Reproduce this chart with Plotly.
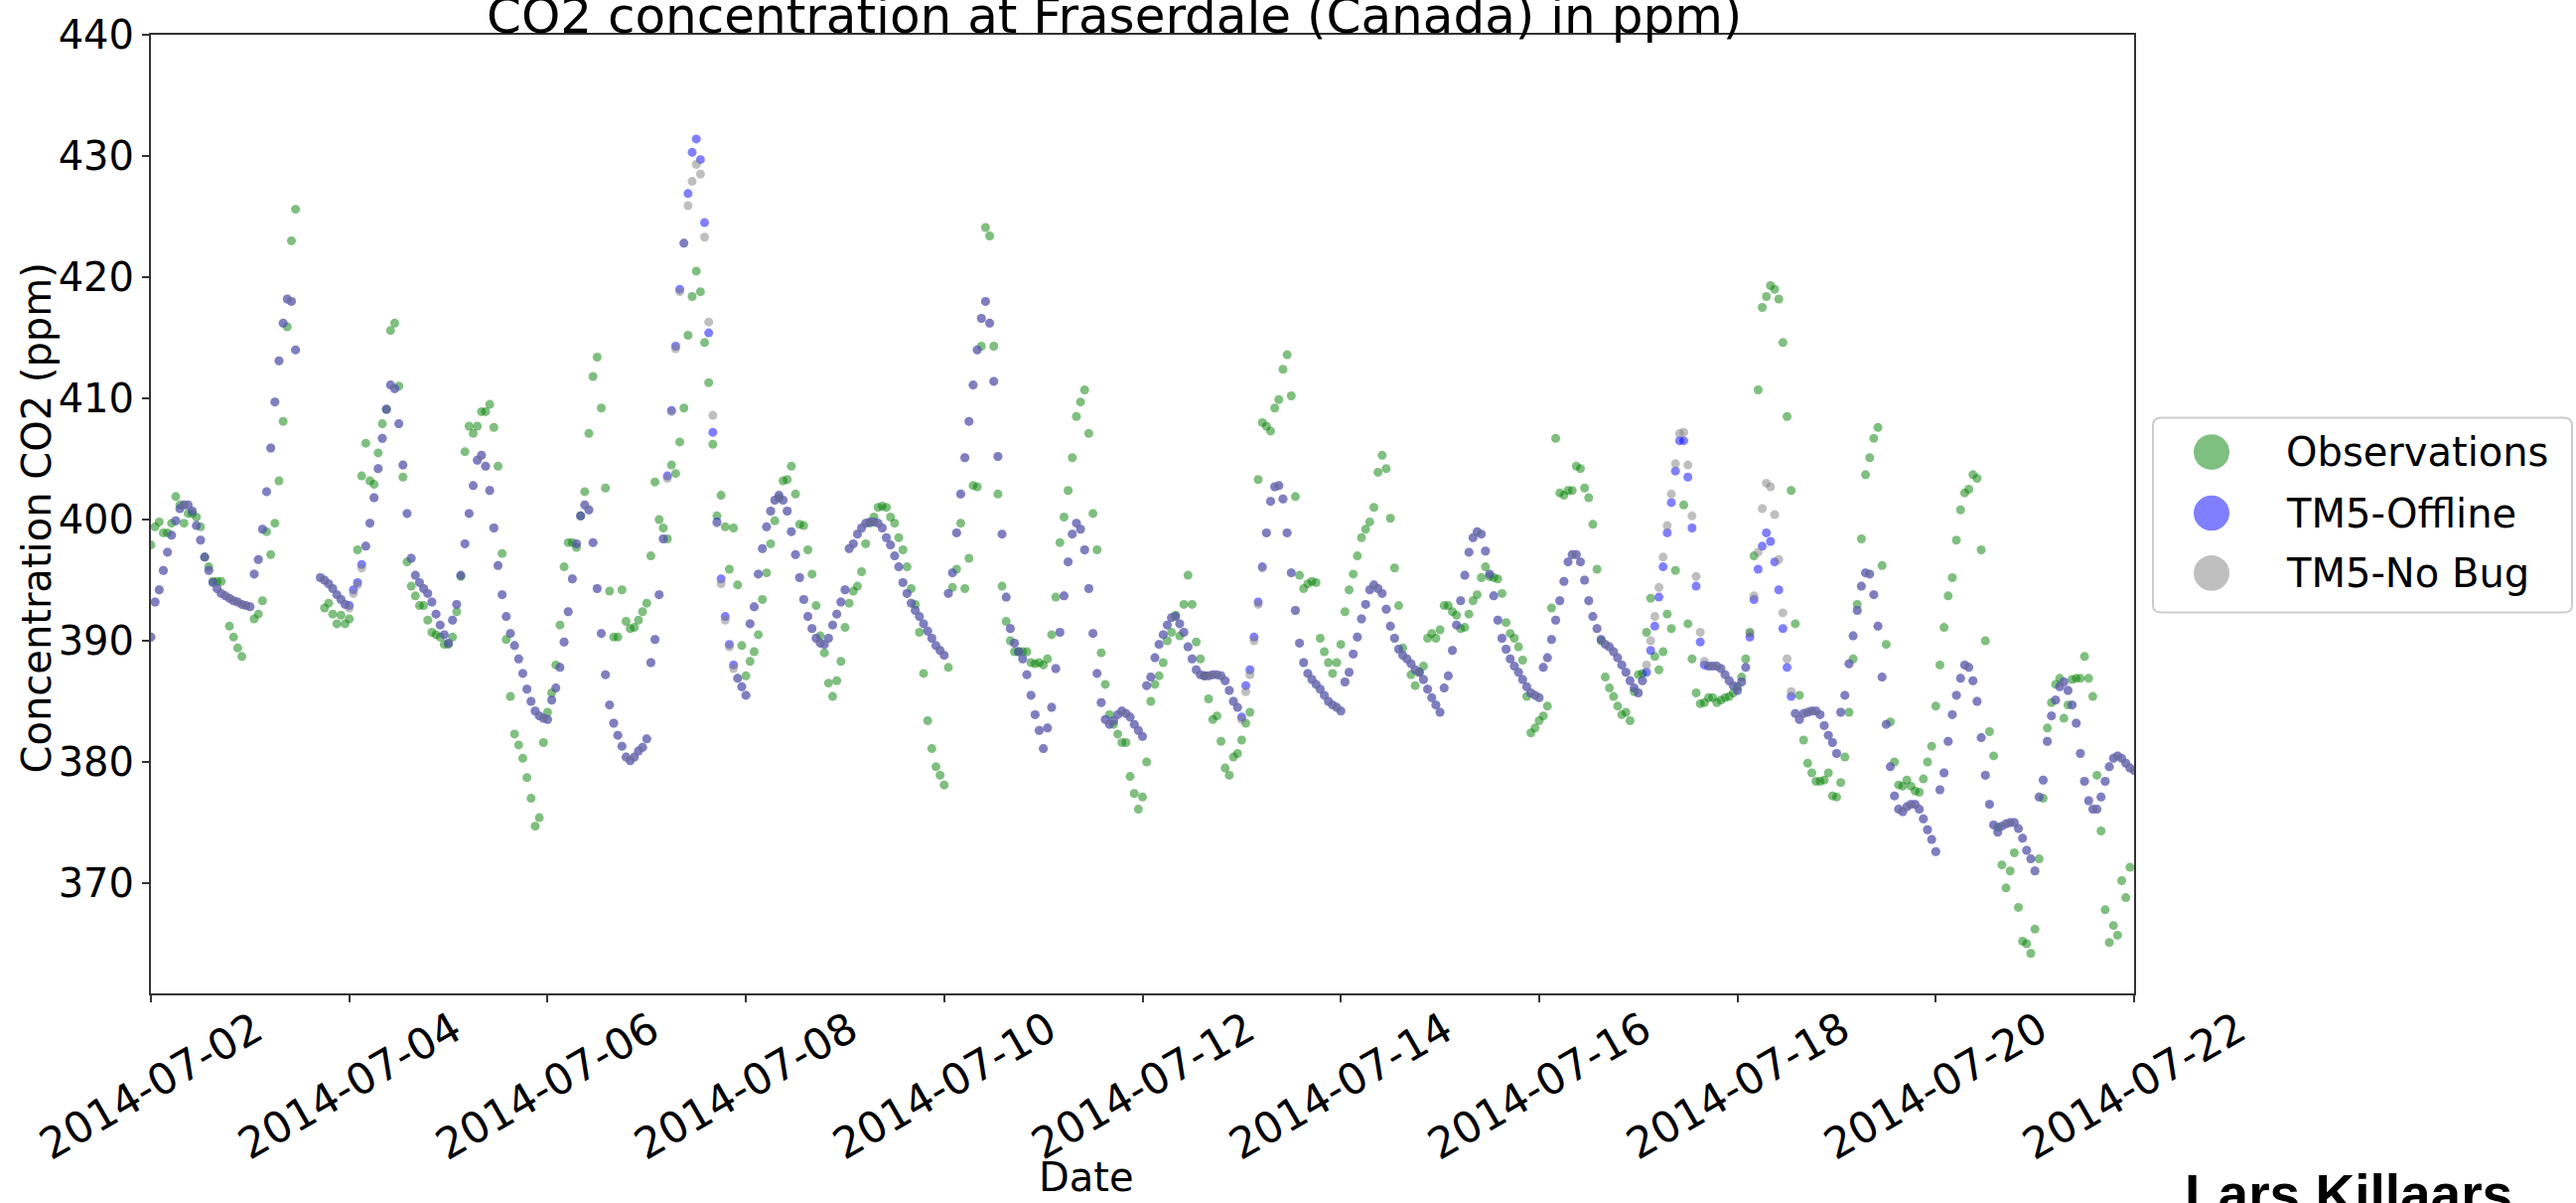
import plotly.graph_objects as go
import pandas as pd

# ---------------- data (hourly, starting 2014-07-02 00:00) ----------------
START = "2014-07-02 00:00"
N_HOURS = 481

# Observations (ppm)
OBS_A = [
    397.9, 399.4, 399.8, 398.9, 398.9, 399.7, 401.9, 401.2, 399.7, 400.5, 400.5, 400.2,
    399.4, 396.9, 396.1, 394.9, 394.9, 394.9, None, 391.2, 390.3, 389.4, 388.7, None,
    None, 391.8, 392.2, 393.3, 399.0, 397.1, 399.7, 403.2, 408.1, 415.9, 423.0, 425.6,
    None, None, None, None, None, None, 392.7, 393.1, 392.2, 391.4, 392.1, 391.4,
    391.8, None, 397.5, 403.6, 406.3, 403.2, 402.9, 405.5, 407.9, 409.1, 415.6, 416.2,
    411.0, 403.5, 396.5, 394.5, 393.7, 392.9, 392.9, 391.7, 390.7, 390.5, 390.3, 389.7,
    389.7, 390.3, 392.4, 395.3, 405.6, 407.7, 407.1, 407.7, 408.9, 408.9, 409.5, 407.6,
    404.4, 397.2, 390.1, 385.4, 382.3, 381.4, 380.3, 378.7, 377.0, 374.7, 375.4, 381.6,
    384.1, 385.7, 388.0, 391.3, 396.1, 398.1, 398.1, 397.7, 400.3, 402.3, 407.1, 411.8,
    413.4, 409.2, 402.6, 394.1, 390.3, 390.3, 394.2, 391.6, 391.0, 391.1, 391.7, 392.4,
]
OBS_B = [
    393.1, 397.0, 403.1, 400.0, 399.3, 398.4, 404.5, 403.8, 406.4, 409.2, 415.2, 418.4,
    420.5, 418.8, 414.6, 411.3, 406.2, 400.3, 402.0, 399.4, 395.9, 399.3, 394.6, 389.6,
    387.1, 388.3, 389.1, 390.5, 393.4, 395.6, 398.0, 399.9, 401.8, 403.2, 403.3, 404.4,
    402.1, 399.6, 399.5, 397.5, 395.5, 392.9, 390.4, 389.0, 386.5, 385.4, 386.7, 388.3,
    391.1, 393.1, 394.1, 394.5, 395.7, 398.0, 399.7, 400.2, 401.0, 401.1, 401.0, 400.2,
    399.7, 398.5, 397.5, 396.1, 394.3, 393.0, 390.7, 387.3, 383.4, 381.1, 379.6, 378.9,
    378.1, 387.8, 394.4, 395.9, 399.7, 394.3, 396.8, 402.8, 402.7, 414.3, 424.1, 423.4,
    414.3, 402.1, 394.5, 391.6, 390.0, 389.1, 389.1, 389.1, 389.1, 388.2, 388.1, 388.2,
    388.0, 388.5, 390.5, 393.6, 398.1, 400.2, 402.4, 405.1, 408.5, 409.7, 410.7, 407.1,
    400.5, 397.5, 389.0, 386.4, 383.9, 383.1, 382.3, 381.6, 381.6, 378.8, 377.4, 376.1,
]
OBS_C = [
    377.1, 380.0, 385.0, 386.4, 387.1, 388.2, 390.0, 390.7, 392.1, 390.4, 393.0, 395.4,
    393.0, 389.9, 388.5, 387.1, 385.2, 383.5, 383.8, 381.7, 379.5, 378.9, 380.4, 380.7,
    381.8, 383.2, 384.1, None, 403.3, 408.0, 407.7, 407.3, 409.2, 409.9, 412.4, 413.6,
    410.2, 401.9, 395.4, 394.3, 394.7, 394.9, 394.8, 390.2, 389.1, 388.2, 387.3, 388.2,
    389.7, 392.4, 394.2, 395.5, 397.0, 398.5, 399.2, 399.8, 401.0, 403.9, 405.3, 404.2,
    400.1, 396.0, 392.9, 389.4, None, 387.2, 386.3, 387.4, 387.9, 390.2, 390.6, 390.2,
    390.9, 392.9, 392.9, 392.4, 392.1, 391.0, 391.1, 392.2, 393.3, 393.8, 395.2, 396.1,
    395.3, 395.2, 395.1, 393.9, 391.5, 390.6, 390.2, 389.5, 388.4, 385.4, 382.4, 382.8,
    383.4, 383.8, 384.6, 392.7, 406.7, 402.2, 402.0, 402.4, 402.4, 404.4, 404.2, 402.6,
    401.8, 399.6, 395.9, 390.0, 387.0, 386.1, 385.4, 384.6, 383.9, 384.1, 383.4, 385.8,
]
OBS_D = [
    387.2, 387.3, 390.7, 393.5, 388.7, 387.6, 389.1, 392.2, 391.0, 395.8, None, 401.2,
    391.4, 388.5, 385.7, 384.8, 384.9, 385.3, 385.3, 384.9, 385.1, 385.3, 385.4, 385.7,
    386.2, 387.0, 388.5, 390.7, 397.0, 410.7, 417.5, 418.4, 419.3, 419.0, 418.2, 414.6,
    408.5, 402.4, 391.4, 385.5, 381.8, 379.9, 379.1, 378.4, 378.4, 378.5, 379.1, 377.2,
    377.1, 378.3, 380.4, 384.1, 388.5, 393.0, 398.4, 403.7, 405.1, 406.7, 407.6, 396.2,
    389.7, 383.3, 380.0, 378.1, 378.0, 378.5, 378.0, 377.6, 377.5, 378.6, 380.0, 381.3,
    384.6, 388.0, 391.1, 393.7, 395.2, 398.3, 400.8, 402.2, 402.5, 403.7, 403.4, 397.5,
    390.0, 382.5, 380.5, 374.6, 371.5, 369.6, 371.0, 372.5, 368.0, 365.2, 365.0, 364.2,
    366.2, 372.0, 377.0, 382.8, 384.9, 386.4, 386.9, 383.6, 384.7, 386.8, 386.9, 386.9,
    388.7, 386.9, 385.4, 378.9, 374.3, 367.8, 365.1, 366.5, 365.7, 370.2, 368.8, 371.3,
    None,
]

# TM5-Offline (ppm)
OFF_A = [
    390.3, 393.2, 394.2, 395.8, 397.3, 398.7, 399.9, 400.9, 401.2, 401.2, 400.7, 399.5,
    398.3, 396.9, 395.8, 394.8, 394.3, 393.9, 393.7, 393.5, 393.3, 393.2, 393.0, 392.9,
    392.8, 395.5, 396.7, 399.2, 402.3, 405.9, 409.7, 413.1, 416.2, 418.2, 418.0, 414.0,
    None, None, None, None, None, 395.2, 395.0, 394.7, 394.3, 393.8, 393.4, 393.0,
    392.9, 394.2, 394.8, 396.3, 397.8, 399.7, 401.8, 404.2, 406.7, 409.1, 411.1, 410.8,
    407.9, 404.5, 400.5, 396.8, 395.4, 394.8, 394.3, 393.9, 393.2, 392.2, 391.3, 390.5,
    389.8, 391.7, 393.0, 395.4, 398.0, 400.5, 402.8, 404.9, 405.3, 404.4, 402.4, 399.3,
    396.2, 393.8, 392.0, 390.6, 389.6, 388.5, 387.3, 386.0, 385.0, 384.2, 383.8, 383.6,
    383.5, 385.1, 386.1, 387.8, 389.9, 392.4, 395.1, 398.0, 400.3, 401.2, 400.8, 398.1,
    394.3, 390.6, 387.2, 384.7, 383.2, 382.2, 381.3, 380.4, 380.1, 380.4, 380.9, 381.2,
]
OFF_B = [
    381.9, 388.2, 390.1, 393.8, 398.4, 403.6, 409.0, 414.3, 419.0, 422.8, 426.9, 430.3,
    431.4, 429.7, 424.5, 415.4, 407.2, 399.8, 395.1, 392.0, 389.7, 388.0, 386.9, 386.2,
    385.5, 391.4, 392.8, 395.5, 397.6, 399.4, 400.7, 401.6, 402.0, 401.6, 400.7, 399.0,
    397.1, 395.2, 393.4, 392.0, 391.0, 390.2, 389.8, 389.7, 390.2, 391.3, 392.2, 393.2,
    394.2, 397.6, 398.0, 398.8, 399.3, 399.7, 399.8, 399.8, 399.7, 399.3, 398.5, 397.9,
    397.0, 396.1, 394.8, 393.9, 393.1, 392.5, 392.0, 391.4, 390.8, 390.2, 389.6, 389.2,
    388.8, 393.9, 395.6, 398.9, 402.1, 405.1, 408.1, 411.1, 414.0, 416.6, 418.0, 416.2,
    411.4, 405.2, 398.8, 393.6, 391.0, 389.8, 389.1, 388.5, 387.2, 385.5, 383.9, 382.6,
    381.1, 382.8, 384.5, 387.7, 390.7, 393.7, 396.5, 398.8, 399.7, 399.2, 397.5, 394.3,
    390.6, 387.3, 384.9, 383.5, 383.1, 383.4, 383.9, 384.2, 384.0, 383.7, 383.1, 382.6,
]
OFF_C = [
    382.1, 386.3, 387.0, 388.6, 389.7, 390.5, 391.3, 391.9, 392.0, 391.4, 390.7, 389.5,
    388.5, 387.6, 387.2, 387.1, 387.1, 387.2, 387.2, 387.1, 386.7, 385.9, 385.0, 384.5,
    383.7, 386.3, 387.6, 390.3, 393.2, 396.1, 398.9, 401.5, 402.7, 402.8, 401.7, 398.9,
    395.6, 392.5, 389.8, 388.2, 387.3, 386.8, 386.4, 386.0, 385.5, 385.0, 384.7, 384.5,
    384.2, 386.6, 387.4, 388.9, 390.3, 391.8, 393.0, 394.2, 394.6, 394.3, 393.9, 392.6,
    391.2, 390.2, 389.3, 388.8, 388.5, 388.1, 387.6, 387.4, 386.8, 386.0, 385.3, 384.7,
    384.1, 386.1, 387.1, 389.2, 391.3, 393.3, 395.4, 397.3, 398.5, 399.0, 398.8, 397.4,
    395.5, 393.7, 391.7, 390.2, 389.3, 388.5, 387.9, 387.4, 386.8, 386.2, 385.7, 385.5,
    385.3, 387.8, 388.6, 390.1, 391.7, 393.3, 394.9, 396.5, 397.1, 397.1, 396.5, 395.0,
    393.3, 392.0, 391.0, 390.1, 389.7, 389.5, 389.1, 388.6, 388.0, 387.4, 386.7, 386.1,
]
OFF_D = [
    385.7, 386.7, 387.4, 389.2, 391.2, 393.6, 396.1, 398.9, 401.4, 404.0, 406.5, 406.5,
    403.5, 399.3, 394.5, 389.9, 388.0, 387.9, 387.9, 387.9, 387.7, 387.2, 386.7, 386.3,
    385.9, 386.6, 387.8, 390.3, 393.4, 395.9, 397.8, 398.9, 398.2, 396.5, 394.2, 391.0,
    387.8, 385.4, 384.0, 383.5, 384.0, 384.1, 384.2, 384.2, 383.9, 383.0, 382.2, 381.6,
    380.7, 384.1, 385.5, 388.1, 390.4, 392.5, 394.5, 395.6, 395.5, 393.8, 391.2, 387.0,
    383.1, 379.6, 377.2, 376.1, 375.9, 376.3, 376.5, 376.5, 376.1, 375.3, 374.4, 373.6,
    372.6, 377.7, 379.1, 381.7, 383.9, 385.5, 386.9, 388.0, 387.8, 386.7, 385.0, 382.0,
    378.9, 376.5, 374.8, 374.2, 374.7, 374.9, 375.0, 375.0, 374.5, 373.7, 372.7, 372.0,
    371.0, 377.1, 378.5, 381.7, 383.8, 385.1, 386.2, 386.6, 385.9, 384.7, 383.2, 380.7,
    378.4, 376.8, 376.1, 376.1, 377.1, 378.4, 379.6, 380.3, 380.5, 380.3, 379.9, 379.5,
    379.3,
]

# TM5-No Bug (ppm)
NOBUG_A = [
    390.3, 393.2, 394.2, 395.8, 397.3, 398.7, 399.9, 400.9, 401.2, 401.2, 400.7, 399.5,
    398.3, 396.9, 395.8, 394.8, 394.3, 393.9, 393.7, 393.5, 393.3, 393.2, 393.0, 392.9,
    392.8, 395.5, 396.7, 399.2, 402.3, 405.9, 409.7, 413.1, 416.2, 418.2, 418.0, 414.0,
    None, None, None, None, None, 395.2, 395.0, 394.7, 394.3, 393.8, 393.4, 393.0,
    392.7, 393.9, 394.6, 396.0, 397.8, 399.7, 401.8, 404.2, 406.7, 409.1, 411.1, 410.8,
    407.9, 404.5, 400.5, 396.8, 395.4, 394.8, 394.3, 393.9, 393.2, 392.2, 391.3, 390.5,
    389.8, 391.7, 393.0, 395.4, 398.0, 400.5, 402.8, 404.9, 405.3, 404.4, 402.4, 399.3,
    396.2, 393.8, 392.0, 390.6, 389.6, 388.5, 387.3, 386.0, 385.0, 384.2, 383.8, 383.6,
    383.5, 385.1, 386.1, 387.8, 389.9, 392.4, 395.1, 398.0, 400.3, 401.2, 400.8, 398.1,
    394.3, 390.6, 387.2, 384.7, 383.2, 382.2, 381.3, 380.4, 380.1, 380.4, 380.9, 381.2,
]
NOBUG_B = [
    381.9, 388.2, 390.1, 393.8, 398.4, 403.4, 408.9, 414.1, 418.8, 422.8, 425.9, 427.9,
    429.3, 428.5, 423.3, 416.3, 408.6, 399.7, 394.7, 391.7, 389.5, 387.7, 386.9, 386.2,
    385.5, 391.4, 392.8, 395.5, 397.6, 399.4, 400.7, 401.6, 402.0, 401.6, 400.7, 399.0,
    397.1, 395.2, 393.4, 392.0, 391.0, 390.2, 389.8, 389.7, 390.2, 391.3, 392.2, 393.2,
    394.2, 397.6, 398.0, 398.8, 399.3, 399.7, 399.8, 399.8, 399.7, 399.3, 398.5, 397.9,
    397.0, 396.1, 394.8, 393.9, 393.1, 392.5, 392.0, 391.4, 390.8, 390.2, 389.6, 389.2,
    388.8, 393.9, 395.6, 398.9, 402.1, 405.1, 408.1, 411.1, 414.0, 416.6, 418.0, 416.2,
    411.4, 405.2, 398.8, 393.6, 391.0, 389.8, 389.1, 388.5, 387.2, 385.5, 383.9, 382.6,
    381.1, 382.8, 384.5, 387.7, 390.7, 393.7, 396.5, 398.8, 399.7, 399.2, 397.5, 394.3,
    390.6, 387.3, 384.9, 383.5, 383.1, 383.4, 383.9, 384.2, 384.0, 383.7, 383.1, 382.6,
]
NOBUG_C = [
    382.1, 386.3, 387.0, 388.6, 389.7, 390.5, 391.3, 391.9, 392.0, 391.4, 390.7, 389.5,
    388.5, 387.6, 387.2, 387.1, 387.1, 387.2, 387.2, 387.1, 386.7, 385.9, 385.0, 384.5,
    383.5, 385.8, 387.2, 390.0, 393.0, 396.0, 398.9, 401.5, 402.7, 402.8, 401.7, 398.9,
    395.6, 392.5, 389.8, 388.2, 387.3, 386.8, 386.4, 386.0, 385.5, 385.0, 384.7, 384.5,
    384.2, 386.6, 387.4, 388.9, 390.3, 391.8, 393.0, 394.2, 394.6, 394.3, 393.9, 392.6,
    391.2, 390.2, 389.3, 388.8, 388.5, 388.1, 387.6, 387.4, 386.8, 386.0, 385.3, 384.7,
    384.1, 386.1, 387.1, 389.2, 391.3, 393.3, 395.4, 397.3, 398.5, 399.0, 398.8, 397.4,
    395.5, 393.7, 391.7, 390.2, 389.3, 388.5, 387.9, 387.4, 386.8, 386.2, 385.7, 385.5,
    385.3, 387.8, 388.6, 390.1, 391.7, 393.3, 394.9, 396.5, 397.1, 397.1, 396.5, 395.0,
    393.3, 392.0, 391.0, 390.1, 389.7, 389.5, 389.1, 388.6, 388.0, 387.4, 386.7, 386.1,
]
NOBUG_D = [
    385.7, 386.7, 388.0, 390.0, 392.0, 394.4, 396.9, 399.5, 402.1, 404.6, 407.1, 407.2,
    404.5, 400.3, 395.3, 390.7, 388.3, 387.9, 387.9, 387.9, 387.7, 387.2, 386.7, 386.3,
    385.9, 386.6, 387.8, 390.6, 393.7, 397.3, 400.9, 403.0, 402.7, 400.4, 396.7, 392.3,
    388.5, 385.8, 384.0, 383.5, 384.0, 384.1, 384.2, 384.2, 383.9, 383.0, 382.2, 381.6,
    380.7, 384.1, 385.5, 388.1, 390.4, 392.5, 394.5, 395.6, 395.5, 393.8, 391.2, 387.0,
    383.1, 379.6, 377.2, 376.1, 375.9, 376.3, 376.5, 376.5, 376.1, 375.3, 374.4, 373.6,
    372.6, 377.7, 379.1, 381.7, 383.9, 385.5, 386.9, 388.0, 387.8, 386.7, 385.0, 382.0,
    378.9, 376.5, 374.8, 374.2, 374.7, 374.9, 375.0, 375.0, 374.5, 373.7, 372.7, 372.0,
    371.0, 377.1, 378.5, 381.7, 383.8, 385.1, 386.2, 386.6, 385.9, 384.7, 383.2, 380.7,
    378.4, 376.8, 376.1, 376.1, 377.1, 378.4, 379.6, 380.3, 380.5, 380.3, 379.9, 379.5,
    379.3,
]

SERIES_NAMES = ["Observations", "TM5-Offline", "TM5-No Bug"]
SERIES_COLORS = ["green", "blue", "grey"]
LEGEND_FILL = ["rgba(0,128,0,0.5)", "rgba(0,0,255,0.5)", "rgba(128,128,128,0.5)"]

TICK_DATES = ["2014-07-02", "2014-07-04", "2014-07-06", "2014-07-08", "2014-07-10", "2014-07-12",
              "2014-07-14", "2014-07-16", "2014-07-18", "2014-07-20", "2014-07-22"]
Y_TICKS = [370, 380, 390, 400, 410, 420, 430, 440]

TITLE = "CO2 concentration at Fraserdale (Canada) in ppm)"
Y_TITLE = "Concentration CO2 (ppm)"
X_TITLE = "Date"
AUTHOR = "Lars Killaars"

# ---------------- figure ----------------
W, H = 2594, 1211
L, R, T, B = 152, 2149, 26, 1000  # plot area in pixels
FONT = "DejaVu Sans"


def px(x):
    return (x - L) / (R - L)


def py(y):
    return 1 - (y - T) / (B - T)


times = pd.date_range(START, periods=N_HOURS, freq="h")
series = [OBS_A + OBS_B + OBS_C + OBS_D,
          OFF_A + OFF_B + OFF_C + OFF_D,
          NOBUG_A + NOBUG_B + NOBUG_C + NOBUG_D]

fig = go.Figure()
for name, color, vals in zip(SERIES_NAMES, SERIES_COLORS, series):
    fig.add_trace(go.Scatter(
        x=times, y=vals, mode="markers", name=name,
        marker=dict(color=color, size=9, opacity=0.5, line=dict(width=0)),
    ))

axis_line = "#333333"
fig.update_xaxes(
    type="date", range=[TICK_DATES[0], TICK_DATES[-1]],
    showline=True, linecolor=axis_line, linewidth=2, mirror=True,
    ticks="outside", ticklen=7, tickwidth=2, tickcolor=axis_line,
    tickvals=TICK_DATES, showticklabels=False,
    showgrid=False, zeroline=False,
)
fig.update_yaxes(
    range=[360.9, 440], tickvals=Y_TICKS,
    showline=True, linecolor=axis_line, linewidth=2, mirror=True,
    ticks="outside", ticklen=7, tickwidth=2, tickcolor=axis_line,
    tickfont=dict(family=FONT, size=40, color="black"),
    showgrid=False, zeroline=False,
)

ann = []
for d in TICK_DATES:
    ann.append(dict(x=d, xref="x", y=0, yref="paper", text=d, textangle=-30,
                    xanchor="center", yanchor="top", yshift=-6, showarrow=False,
                    font=dict(family=FONT, size=43, color="black")))
ann.append(dict(x=px(37), xref="paper", y=py(517), yref="paper", text=Y_TITLE, textangle=-90,
                xanchor="center", yanchor="middle", showarrow=False,
                font=dict(family=FONT, size=40, color="black")))
ann.append(dict(x=px(1094), xref="paper", y=py(1161), yref="paper", text=X_TITLE,
                xanchor="center", yanchor="top", showarrow=False,
                font=dict(family=FONT, size=40, color="black")))
ann.append(dict(x=px(1122), xref="paper", y=py(-24), yref="paper", text=TITLE,
                xanchor="center", yanchor="top", showarrow=False,
                font=dict(family=FONT, size=50, color="black")))
ann.append(dict(x=px(2198), xref="paper", y=py(1171), yref="paper", text="<b>" + AUTHOR + "</b>",
                xanchor="left", yanchor="top", showarrow=False,
                font=dict(family="Liberation Sans", size=55, color="black")))

# legend drawn by hand (large circle markers)
shapes = []
bx0, bx1, by0, by1, rad = 2168, 2590, 415, 613, 8
path = (f"M {px(bx0 + rad)},{py(by0)} L {px(bx1 - rad)},{py(by0)} "
        f"Q {px(bx1)},{py(by0)} {px(bx1)},{py(by0 + rad)} L {px(bx1)},{py(by1 - rad)} "
        f"Q {px(bx1)},{py(by1)} {px(bx1 - rad)},{py(by1)} L {px(bx0 + rad)},{py(by1)} "
        f"Q {px(bx0)},{py(by1)} {px(bx0)},{py(by1 - rad)} L {px(bx0)},{py(by0 + rad)} "
        f"Q {px(bx0)},{py(by0)} {px(bx0 + rad)},{py(by0)} Z")
shapes.append(dict(type="path", path=path, xref="paper", yref="paper",
                   line=dict(color="#cccccc", width=2), fillcolor="white"))
centers = [450, 512, 573]
r = 18
for name, fill, cy in zip(SERIES_NAMES, LEGEND_FILL, centers):
    shapes.append(dict(type="circle", xref="paper", yref="paper",
                       x0=px(2227 - r), x1=px(2227 + r), y0=py(cy + r), y1=py(cy - r),
                       fillcolor=fill, line=dict(width=0)))
    ann.append(dict(x=px(2300), xref="paper", y=py(cy), yref="paper", text=name,
                    xanchor="left", yanchor="middle", showarrow=False,
                    font=dict(family=FONT, size=40, color="black")))

fig.update_layout(
    width=W, height=H,
    margin=dict(l=L, r=W - R, t=T, b=H - B, pad=0),
    paper_bgcolor="white", plot_bgcolor="white",
    showlegend=False,
    font=dict(family=FONT, size=40, color="black"),
    annotations=ann, shapes=shapes,
)

fig.write_html("out.html")
